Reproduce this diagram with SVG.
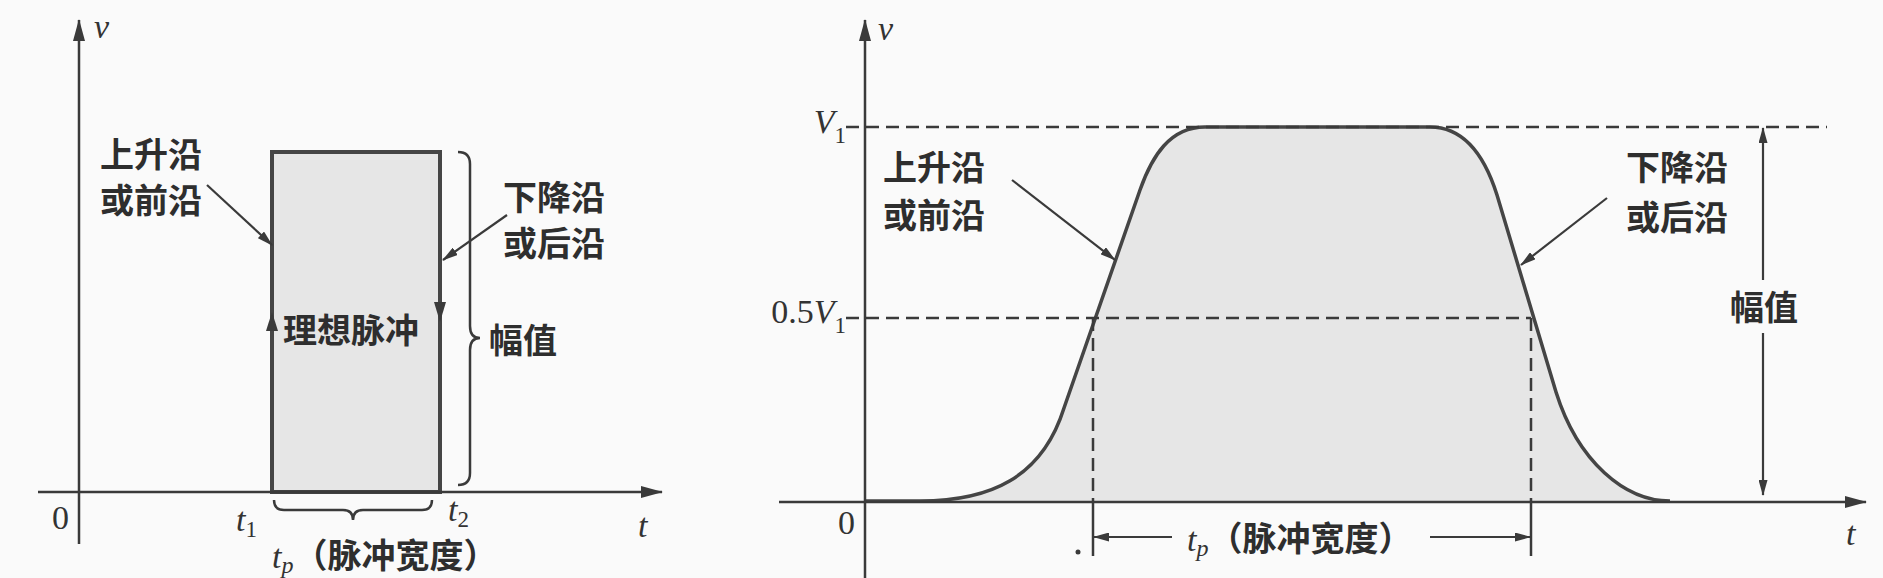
<svg xmlns="http://www.w3.org/2000/svg" width="1883" height="578" viewBox="0 0 1883 578">
<style>
.cjk{font-family:"Noto Sans CJK SC","Noto Sans CJK TC",sans-serif;font-weight:700;font-style:normal;font-size:34px;fill:#2e2e2e}
.math{font-family:"Liberation Serif",serif;font-style:italic;font-size:34px;fill:#333}
.num{font-family:"Liberation Serif",serif;font-size:34px;fill:#333}
.sub{font-size:23px;font-style:normal}
.subi{font-size:24px;font-style:italic}
.axis{stroke:#3a3a3a;stroke-width:2.5;fill:none}
.lead{stroke:#3a3a3a;stroke-width:2.2;fill:none}
.dash{stroke:#3a3a3a;stroke-width:2.5;fill:none;stroke-dasharray:13 7}
.brace{stroke:#3a3a3a;stroke-width:2.5;fill:none}
.head{fill:#3a3a3a}
</style>
<defs>
<marker id="axisHead" viewBox="0 0 22 12" refX="21" refY="6" markerWidth="22" markerHeight="12" markerUnits="userSpaceOnUse" orient="auto"><path d="M0,0 L22,6 L0,12 z" class="head"/></marker>
<marker id="leadHead" viewBox="0 0 16 9" refX="15" refY="4.5" markerWidth="16" markerHeight="9" markerUnits="userSpaceOnUse" orient="auto-start-reverse"><path d="M0,0 L16,4.5 L0,9 z" class="head"/></marker>
</defs>
<rect x="0" y="0" width="1883" height="578" fill="#fafafa"/>

<!-- LEFT DIAGRAM -->
<g id="left-pulse">
<rect x="272" y="152" width="168" height="340" fill="#e6e6e6" stroke="#454545" stroke-width="4"/>
<polygon points="272,312 266,331 278,331" class="head"/>
<polygon points="440,322 434,302 446,302" class="head"/>
<text x="283" y="343" class="cjk" font-size="36">理想脉冲</text>
</g>
<g id="left-axes">
<line x1="79" y1="544" x2="79" y2="20" class="axis" marker-end="url(#axisHead)"/>
<line x1="38" y1="492" x2="662" y2="492" class="axis" marker-end="url(#axisHead)"/>
<text x="94" y="38" class="math">v</text>
<text x="52" y="529" class="num">0</text>
<text x="236" y="531" class="math">t<tspan class="sub" dy="6">1</tspan></text>
<text x="448" y="521" class="math">t<tspan class="sub" dy="6">2</tspan></text>
<text x="638" y="537" class="math">t</text>
</g>
<g id="left-rise-label">
<text x="100" y="167" class="cjk">上升沿</text>
<text x="100" y="213" class="cjk">或前沿</text>
</g>
<g id="left-fall-label">
<text x="503" y="210" class="cjk">下降沿</text>
<text x="503" y="256" class="cjk">或后沿</text>
</g>
<g id="left-amplitude">
<path d="M458,152 Q470,152 470,164 L470,326 Q470,338 480,338 Q470,338 470,350 L470,473 Q470,485 458,485" class="brace"/>
<text x="489" y="353" class="cjk" font-size="36">幅值</text>
</g>
<g id="left-width">
<path d="M274,500 Q274,510 284,510 L343,510 Q353,510 353,520 Q353,510 363,510 L422,510 Q432,510 432,500" class="brace"/>
<text x="272" y="568" class="math">t<tspan class="subi" dy="5">p</tspan><tspan class="cjk" font-size="32" dy="-5">（脉冲宽度）</tspan></text>
</g>

<!-- RIGHT DIAGRAM -->
<g id="right-pulse">
<path d="M866,501 L920,501 C990,501 1042,478 1064,408 L1140,190 C1152,156 1170,127 1205,127 L1430,127 C1465,127 1485,157 1497,195 L1556,392 C1578,462 1625,501 1670,501 Z" fill="#e6e6e6" stroke="none"/>
<path d="M866,501 L920,501 C990,501 1042,478 1064,408 L1140,190 C1152,156 1170,127 1205,127 L1430,127 C1465,127 1485,157 1497,195 L1556,392 C1578,462 1625,501 1670,501" fill="none" stroke="#454545" stroke-width="3.5"/>
</g>
<g id="right-guides">
<line x1="846" y1="127" x2="1827" y2="127" class="dash"/>
<line x1="846" y1="318" x2="1531" y2="318" class="dash"/>
<line x1="1093" y1="318" x2="1093" y2="502" class="dash"/>
<line x1="1531" y1="318" x2="1531" y2="502" class="dash"/>
<line x1="1093" y1="502" x2="1093" y2="556" class="axis"/>
<line x1="1531" y1="502" x2="1531" y2="556" class="axis"/>
</g>
<g id="right-axes">
<line x1="865" y1="578" x2="865" y2="20" class="axis" marker-end="url(#axisHead)"/>
<line x1="779" y1="502" x2="1866" y2="502" class="axis" marker-end="url(#axisHead)"/>
<text x="878" y="40" class="math">v</text>
<text x="838" y="534" class="num">0</text>
<text x="1846" y="545" class="math">t</text>
<text x="846" y="133" class="math" text-anchor="end">V<tspan class="sub" dy="10">1</tspan></text>
<text x="846" y="323" class="num" text-anchor="end">0.5<tspan font-style="italic">V</tspan><tspan class="sub" dy="10">1</tspan></text>
<circle cx="1078" cy="552" r="2.5" fill="#3a3a3a"/>
</g>
<g id="right-rise-label">
<text x="883" y="180" class="cjk">上升沿</text>
<text x="883" y="228" class="cjk">或前沿</text>
</g>
<g id="right-fall-label">
<text x="1626" y="180" class="cjk">下降沿</text>
<text x="1626" y="230" class="cjk">或后沿</text>
</g>
<g id="right-amplitude">
<text x="1730" y="320" class="cjk">幅值</text>
</g>
<g id="right-width">
<text x="1187" y="551" class="math">t<tspan class="subi" dy="5">p</tspan><tspan class="cjk" font-size="33" dy="-5">（脉冲宽度）</tspan></text>
</g>

<!-- CONNECTORS -->
<g id="connectors">
<line x1="207" y1="185" x2="272" y2="245" class="lead" marker-end="url(#leadHead)"/>
<line x1="507" y1="215" x2="443" y2="260" class="lead" marker-end="url(#leadHead)"/>
<line x1="1012" y1="180" x2="1115" y2="260" class="lead" marker-end="url(#leadHead)"/>
<line x1="1607" y1="198" x2="1521" y2="265" class="lead" marker-end="url(#leadHead)"/>
<line x1="1763" y1="280" x2="1763" y2="128" class="lead" marker-end="url(#leadHead)"/>
<line x1="1763" y1="333" x2="1763" y2="495" class="lead" marker-end="url(#leadHead)"/>
<line x1="1172" y1="537" x2="1094" y2="537" class="lead" marker-end="url(#leadHead)"/>
<line x1="1430" y1="537" x2="1530" y2="537" class="lead" marker-end="url(#leadHead)"/>
</g>
</svg>
